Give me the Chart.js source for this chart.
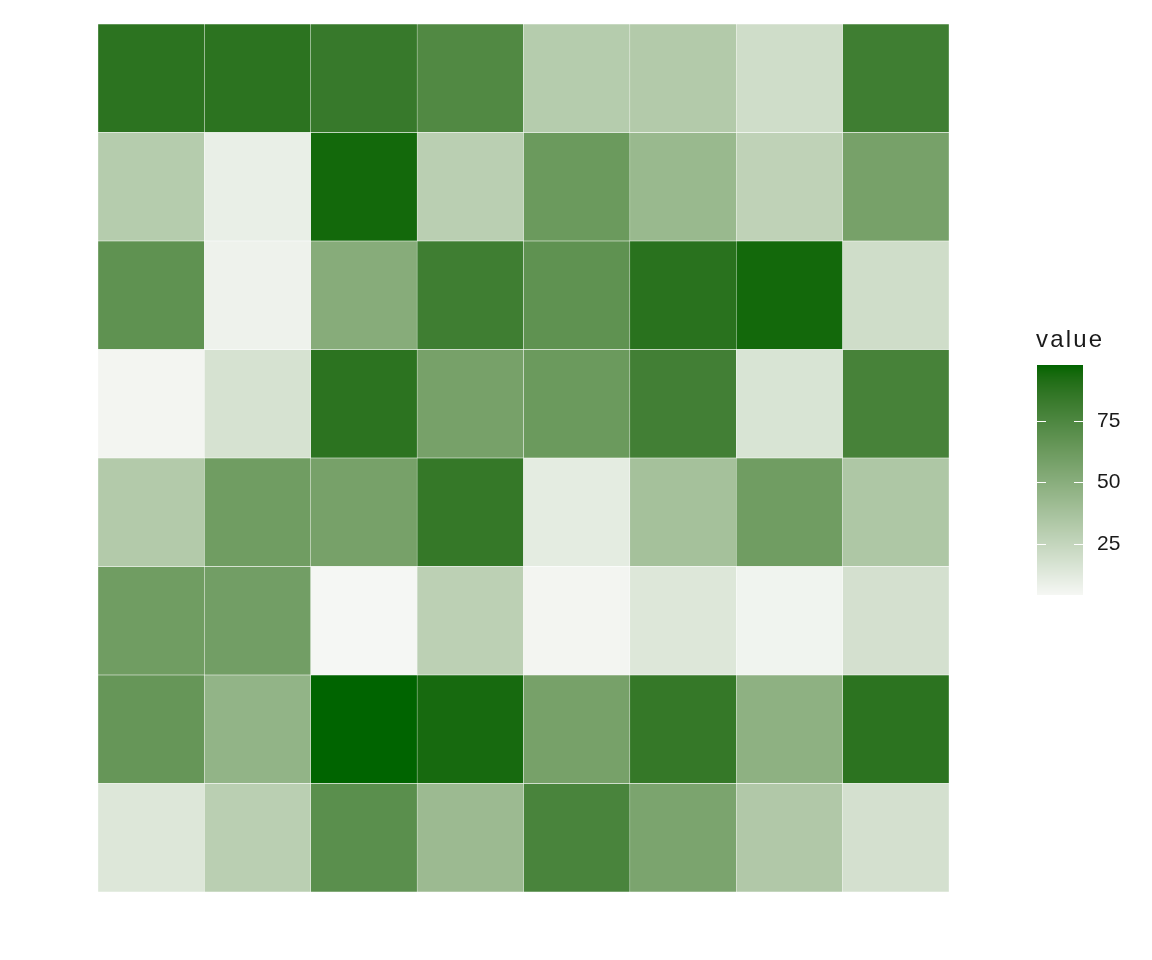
<!DOCTYPE html>
<html>
<head>
<meta charset="utf-8">
<script src="https://cdn.jsdelivr.net/npm/chart.js@4"></script>
<style>
  html, body { margin: 0; padding: 0; background: #ffffff; }
  #wrap { width: 1152px; height: 960px; position: relative; }
</style>
</head>
<body>
<div id="wrap"><canvas id="c" width="1152" height="960"></canvas></div>
<script>
// Column categories (left to right) and row categories (bottom to top)
const columns = ['1', '2', '3', '4', '5', '6', '7', '8'];
const rows = ['1', '2', '3', '4', '5', '6', '7', '8'];

// Values by row, listed bottom row first
const row1 = [14, 29, 70, 42, 77, 56, 33, 18];
const row2 = [65, 46, 98, 94, 58, 85, 48, 88];
const row3 = [61, 60, 4, 28, 5, 14, 6, 18];
const row4 = [32, 61, 58, 85, 11, 38, 61, 34];
const row5 = [5, 17, 88, 58, 63, 80, 16, 78];
const row6 = [68, 7, 51, 81, 68, 89, 95, 20];
const row7 = [31, 9, 95, 29, 63, 43, 27, 58];
const row8 = [88, 88, 84, 74, 31, 32, 20, 81];
const rowValues = [row1, row2, row3, row4, row5, row6, row7, row8];

const legendTicks = [25, 50, 75];
const legendTitle = 'value';

const lowColor = '#F5F7F4';
const highColor = '#006400';

// ---- Lab interpolation ----
function hexToRgb(h){ h=h.replace('#',''); return [parseInt(h.substr(0,2),16),parseInt(h.substr(2,2),16),parseInt(h.substr(4,2),16)]; }
function srgbToLin(c){ c/=255; return c<=0.04045? c/12.92 : Math.pow((c+0.055)/1.055,2.4); }
function linToSrgb(c){ const v = c<=0.0031308? 12.92*c : 1.055*Math.pow(c,1/2.4)-0.055; return Math.max(0,Math.min(255,Math.round(v*255))); }
const Xn=0.95047, Yn=1.0, Zn=1.08883;
function f(t){ return t>0.008856? Math.cbrt(t) : 7.787*t+16/116; }
function finv(t){ return t>0.206893? t*t*t : (t-16/116)/7.787; }
function rgbToLab(rgb){
  const [r,g,b]=rgb.map(srgbToLin);
  const X=0.4124*r+0.3576*g+0.1805*b, Y=0.2126*r+0.7152*g+0.0722*b, Z=0.0193*r+0.1192*g+0.9505*b;
  const fx=f(X/Xn), fy=f(Y/Yn), fz=f(Z/Zn);
  return [116*fy-16, 500*(fx-fy), 200*(fy-fz)];
}
function labToRgb(lab){
  const [L,a,bb]=lab; const fy=(L+16)/116, fx=fy+a/500, fz=fy-bb/200;
  const X=Xn*finv(fx), Y=Yn*finv(fy), Z=Zn*finv(fz);
  const r= 3.2406*X-1.5372*Y-0.4986*Z, g=-0.9689*X+1.8758*Y+0.0415*Z, b=0.0557*X-0.2040*Y+1.0570*Z;
  return [linToSrgb(r),linToSrgb(g),linToSrgb(b)];
}
const lowLab = rgbToLab(hexToRgb(lowColor)), highLab = rgbToLab(hexToRgb(highColor));
const allVals = rowValues.flat();
const vMin = Math.min(...allVals), vMax = Math.max(...allVals);
function colorFor(v){
  const t=(v-vMin)/(vMax-vMin);
  const lab=[0,1,2].map(i=>lowLab[i]+(highLab[i]-lowLab[i])*t);
  const c=labToRgb(lab);
  return `rgb(${c[0]},${c[1]},${c[2]})`;
}

const datasets = rowValues.map((vals, i) => ({
  label: rows[i],
  data: vals.map(() => 1),
  values: vals,
  backgroundColor: vals.map(colorFor),
  borderColor: 'rgba(255,255,255,0.55)',
  borderWidth: 0.5,
  borderSkipped: false,
  categoryPercentage: 1.0,
  barPercentage: 1.0
}));

const legendPlugin = {
  id: 'colorbar',
  afterDraw(chart){
    const ctx = chart.ctx;
    const x0 = 1037, w = 46, yTop = 365, yBot = 595;
    const valToY = v => yBot - (v - vMin) / (vMax - vMin) * (yBot - yTop);
    ctx.save();
    for (let y = yTop; y < yBot; y++) {
      const v = vMin + (yBot - (y + 0.5)) / (yBot - yTop) * (vMax - vMin);
      ctx.fillStyle = colorFor(v);
      ctx.fillRect(x0, y, w, 1);
    }
    ctx.strokeStyle = '#ffffff';
    ctx.lineWidth = 1;
    ctx.fillStyle = '#1a1a1a';
    ctx.font = '21px "Liberation Sans", Arial, sans-serif';
    ctx.textBaseline = 'middle';
    ctx.textAlign = 'left';
    legendTicks.forEach(t => {
      const y = Math.round(valToY(t)) + 0.5;
      ctx.beginPath();
      ctx.moveTo(x0, y); ctx.lineTo(x0 + 9, y);
      ctx.moveTo(x0 + w - 9, y); ctx.lineTo(x0 + w, y);
      ctx.stroke();
      ctx.fillText(String(t), x0 + w + 14, y);
    });
    ctx.font = '24px "Liberation Sans", Arial, sans-serif';
    try { ctx.letterSpacing = '2.2px'; } catch (e) {}
    ctx.textBaseline = 'alphabetic';
    ctx.fillText(legendTitle, 1036, 347);
    ctx.restore();
  }
};

new Chart(document.getElementById('c'), {
  type: 'bar',
  data: { labels: columns, datasets },
  options: {
    responsive: false,
    animation: false,
    devicePixelRatio: 1,
    layout: { padding: { left: 98, right: 203, top: 24, bottom: 68 } },
    plugins: { legend: { display: false }, tooltip: { enabled: false } },
    scales: {
      x: { stacked: true, display: false, grid: { display: false } },
      y: { stacked: true, display: false, min: 0, max: 8, grid: { display: false } }
    }
  },
  plugins: [legendPlugin]
});
</script>
</body>
</html>
